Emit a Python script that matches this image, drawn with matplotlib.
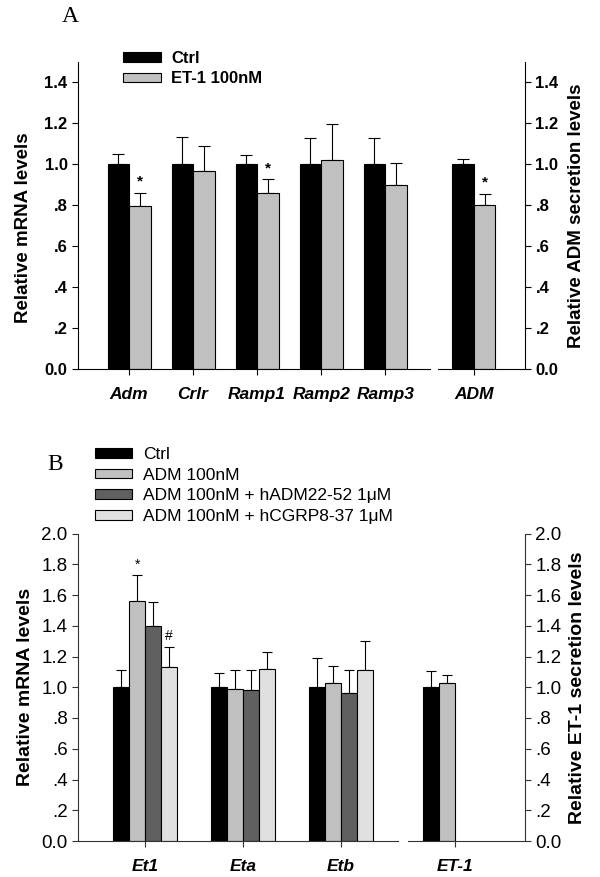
import numpy as np
import matplotlib
matplotlib.use("Agg")
import matplotlib.pyplot as plt
from matplotlib.patches import Patch

plt.rcParams['font.family'] = ['Liberation Sans', 'DejaVu Sans']

# ---- panel A data ----
genes_a = ['Adm', 'Crlr', 'Ramp1', 'Ramp2', 'Ramp3']
ctrl_a = [1.0, 1.0, 1.0, 1.0, 1.0]
ctrl_a_err = [0.05, 0.133, 0.045, 0.13, 0.128]
et1_a = [0.795, 0.967, 0.86, 1.02, 0.90]
et1_a_err = [0.065, 0.123, 0.068, 0.177, 0.106]
stars_a = ['*', '', '*', '', '']
secr_a = ['ADM']
secr_ctrl_a = [1.0]
secr_ctrl_a_err = [0.025]
secr_et1_a = [0.80]
secr_et1_a_err = [0.055]
secr_stars_a = ['*']
labels_a = ['Ctrl', 'ET-1 100nM']

# ---- panel B data ----
genes_b = ['Et1', 'Eta', 'Etb']
ctrl_b = [1.0, 1.0, 1.0]
ctrl_b_err = [0.11, 0.09, 0.19]
adm_b = [1.56, 0.99, 1.03]
adm_b_err = [0.17, 0.12, 0.105]
hadm_b = [1.40, 0.985, 0.965]
hadm_b_err = [0.155, 0.13, 0.145]
hcgrp_b = [1.13, 1.12, 1.115]
hcgrp_b_err = [0.135, 0.11, 0.185]
marks_b = {(0, 1): '*', (0, 3): '#'}
secr_b = ['ET-1']
secr_ctrl_b = [1.0]
secr_ctrl_b_err = [0.105]
secr_adm_b = [1.03]
secr_adm_b_err = [0.05]
labels_b = ['Ctrl', 'ADM 100nM', 'ADM 100nM + hADM22-52 1\u03bcM', 'ADM 100nM + hCGRP8-37 1\u03bcM']

cols_a = ['black', '#c0c0c0']
cols_b = ['black', '#c0c0c0', '#606060', '#e0e0e0']

yt_a = [0, 0.2, 0.4, 0.6, 0.8, 1.0, 1.2, 1.4]
ytl_a = ['0.0', '.2', '.4', '.6', '.8', '1.0', '1.2', '1.4']
yt_b = [0, 0.2, 0.4, 0.6, 0.8, 1.0, 1.2, 1.4, 1.6, 1.8, 2.0]
ytl_b = ['0.0', '.2', '.4', '.6', '.8', '1.0', '1.2', '1.4', '1.6', '1.8', '2.0']

W, H = 600, 877
fig = plt.figure(figsize=(W / 100, H / 100), dpi=100)


def px_axes(x0, x1, ytop, ybot):
    return fig.add_axes([x0 / W, 1 - ybot / H, (x1 - x0) / W, (ybot - ytop) / H])


def draw_bars(ax, series, errs, cols, w, nslots, ecap=4):
    for k, (vals, err, c) in enumerate(zip(series, errs, cols)):
        x = np.arange(len(vals)) + (k - (nslots - 1) / 2) * w
        ax.bar(x, vals, w, color=c, edgecolor='black', linewidth=0.8, zorder=2)
        ax.errorbar(x, vals, yerr=[np.zeros(len(vals)), err], fmt='none',
                    ecolor='black', elinewidth=0.8, capsize=ecap, capthick=0.8, zorder=1)


def style(ax, side, ticks, tlabels, ylim, xlim, cats, tfs, tweight, scol):
    ax.set_ylim(*ylim)
    ax.set_xlim(*xlim)
    for s in ['top', 'left', 'right']:
        ax.spines[s].set_visible(False)
    ax.spines[side].set_visible(True)
    ax.spines[side].set_color(scol)
    ax.spines['bottom'].set_color(scol)
    if side == 'right':
        ax.yaxis.tick_right()
    ax.set_yticks(ticks)
    ax.set_yticklabels(tlabels, fontsize=tfs, fontweight=tweight)
    ax.set_xticks(range(len(cats)))
    ax.set_xticklabels(cats, fontsize=12.5, fontweight='bold', style='italic')
    ax.tick_params(axis='both', length=4, width=0.8, color=scol, direction='out')
    ax.tick_params(axis='x', pad=9)


# ================= Panel A =================
wa = 0.336
axa1 = px_axes(78, 430, 62, 369)
axa2 = px_axes(438, 525, 62, 369)
draw_bars(axa1, [ctrl_a, et1_a], [ctrl_a_err, et1_a_err], cols_a, wa, 2)
draw_bars(axa2, [secr_ctrl_a, secr_et1_a], [secr_ctrl_a_err, secr_et1_a_err], cols_a, wa, 2)
style(axa1, 'left', yt_a, ytl_a, (0, 1.5), (-0.797, 4.70), genes_a, 12, 'bold', 'black')
style(axa2, 'right', yt_a, ytl_a, (0, 1.5), (-0.5625, 0.797), secr_a, 12, 'bold', 'black')
for i, s in enumerate(stars_a):
    if s:
        axa1.text(i + wa / 2, et1_a[i] + et1_a_err[i] + 0.02, s, ha='center', va='bottom',
                  fontsize=11, fontweight='bold')
for i, s in enumerate(secr_stars_a):
    axa2.text(i + wa / 2, secr_et1_a[i] + secr_et1_a_err[i] + 0.02, s, ha='center', va='bottom',
              fontsize=11, fontweight='bold')
axa1.set_ylabel('Relative mRNA levels', fontsize=13.5, fontweight='bold')
axa1.yaxis.set_label_coords(-0.13, 0.46)
axa2.yaxis.set_label_position('right')
axa2.set_ylabel('Relative ADM secretion levels', fontsize=13.5, fontweight='bold', labelpad=7)
handles = [Patch(facecolor=c, edgecolor='black', linewidth=0.8) for c in cols_a]
fig.legend(handles, labels_a, loc='upper left', bbox_to_anchor=(123 / W, 1 - 51 / H),
           frameon=False, borderpad=0, borderaxespad=0, handlelength=2.3, handleheight=0.5,
           labelspacing=0.32, handletextpad=0.6, prop={'size': 12, 'weight': 'bold'})
fig.text(70 / W, 1 - 17 / H, 'A', fontsize=17, family='Liberation Serif', ha='center', va='center')

# ================= Panel B =================
wb = 0.163
axb1 = px_axes(78, 398, 533.5, 841)
axb2 = px_axes(408, 525, 533.5, 841)
draw_bars(axb1, [ctrl_b, adm_b, hadm_b, hcgrp_b], [ctrl_b_err, adm_b_err, hadm_b_err, hcgrp_b_err],
          cols_b, wb, 4, ecap=3.5)
draw_bars(axb2, [secr_ctrl_b, secr_adm_b], [secr_ctrl_b_err, secr_adm_b_err], cols_b[:2], wb, 4, ecap=3.5)
style(axb1, 'left', yt_b, ytl_b, (0, 2.0), (-0.684, 2.58), genes_b, 13.5, 'normal', '#333333')
style(axb2, 'right', yt_b, ytl_b, (0, 2.0), (-0.48, 0.714), secr_b, 13.5, 'normal', '#333333')
series_b = [ctrl_b, adm_b, hadm_b, hcgrp_b]
errs_b = [ctrl_b_err, adm_b_err, hadm_b_err, hcgrp_b_err]
for (i, k), m in marks_b.items():
    axb1.text(i + (k - 1.5) * wb, series_b[k][i] + errs_b[k][i] + 0.02, m, ha='center', va='bottom',
              fontsize=10)
axb1.set_ylabel('Relative mRNA levels', fontsize=14, fontweight='bold', labelpad=5)
axb2.yaxis.set_label_position('right')
axb2.set_ylabel('Relative ET-1 secretion levels', fontsize=14, fontweight='bold', labelpad=5)
handles = [Patch(facecolor=c, edgecolor='black', linewidth=0.8) for c in cols_b]
fig.legend(handles, labels_b, loc='upper left', bbox_to_anchor=(95 / W, 1 - 447 / H),
           frameon=False, borderpad=0, borderaxespad=0, handlelength=2.15, handleheight=0.48,
           labelspacing=0.33, handletextpad=0.6, prop={'size': 12.5})
fig.text(55 / W, 1 - 465 / H, 'B', fontsize=17, family='Liberation Serif', ha='center', va='center')

fig.savefig('out.png', dpi=100)
